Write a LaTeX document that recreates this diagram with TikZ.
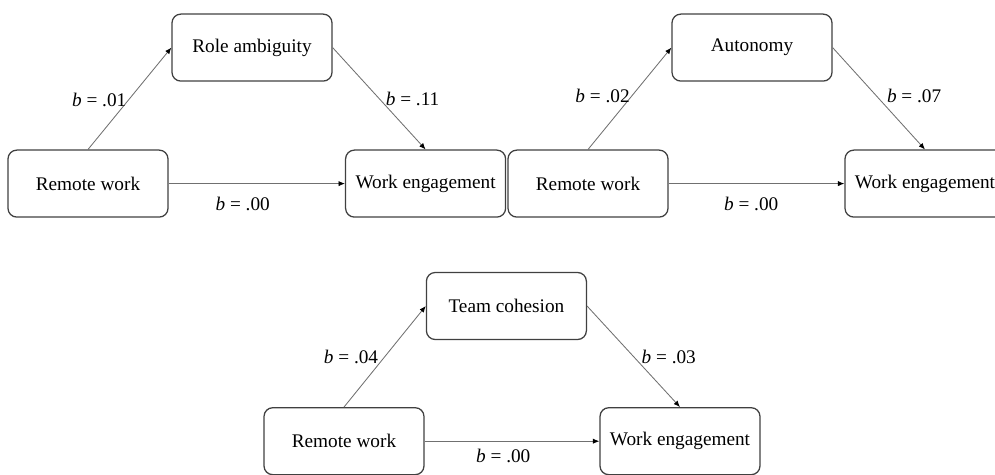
\documentclass[tikz,border=0pt]{standalone}
\usepackage{fontspec}
\setmainfont{Liberation Serif}
\usepackage{tikz}
\usetikzlibrary{arrows.meta,positioning}
\usepackage{xcolor}
\definecolor{frame}{HTML}{404040}
\definecolor{linkgray}{HTML}{707070}
\tikzset{
    varbox/.style={
        draw=frame,
        line width=0.9pt,
        rounded corners=0.22cm,
        minimum width=4cm,
        minimum height=1.675cm,
        font=\fontsize{13.7}{15}\selectfont
    },
    link/.style={
        -{Latex[length=1.6mm,width=1.3mm,color=black]},
        line width=0.6pt,
        color=linkgray
    },
    coef/.style={
        text=black,
        font=\fontsize{13.7}{15}\selectfont,
        inner sep=1.5pt
    }
}

\begin{document}
\begin{tikzpicture}

    \useasboundingbox (0,0) rectangle (24.875,11.85);

    % Role ambiguity
    \node[varbox] (rw1) at (2.2,7.26) {Remote work};
    \node[varbox] (ra) at (6.3,10.66) {Role ambiguity};
    \node[varbox] (we1) at (10.64,7.26) {Work engagement};

    \draw[link] (rw1.north) -- (ra.west)
        node[coef,pos=0.49,anchor=east] {\textit{b} = .01};
    \draw[link] (ra.east) -- (we1.north)
        node[coef,pos=0.5,anchor=west,xshift=3pt] {\textit{b} = .11};
    \draw[link] (rw1.east) -- (we1.west)
        node[coef,pos=0.42,below=8pt] {\textit{b} = .00};

    % Autonomy
    \node[varbox] (rw2) at (14.7,7.26) {Remote work};
    \node[varbox] (au) at (18.8,10.66) {Autonomy};
    \node[varbox] (we2) at (23.125,7.26) {Work engagement};

    \draw[link] (rw2.north) -- (au.west)
        node[coef,pos=0.53,anchor=east] {\textit{b} = .02};
    \draw[link] (au.east) -- (we2.north)
        node[coef,pos=0.47,anchor=west,xshift=6pt] {\textit{b} = .07};
    \draw[link] (rw2.east) -- (we2.west)
        node[coef,pos=0.47,below=8pt] {\textit{b} = .00};

    % Team cohesion
    \node[varbox] (rw3) at (8.6,0.82) {Remote work};
    \node[varbox] (tc) at (12.66,4.2) {Team cohesion};
    \node[varbox] (we3) at (17.0,0.82) {Work engagement};

    \draw[link] (rw3.north) -- (tc.west)
        node[coef,pos=0.5,anchor=east,xshift=-3pt] {\textit{b} = .04};
    \draw[link] (tc.east) -- (we3.north)
        node[coef,pos=0.5,anchor=west,xshift=4pt] {\textit{b} = .03};
    \draw[link] (rw3.east) -- (we3.west)
        node[coef,pos=0.45,below=4pt] {\textit{b} = .00};

\end{tikzpicture}
\end{document}
